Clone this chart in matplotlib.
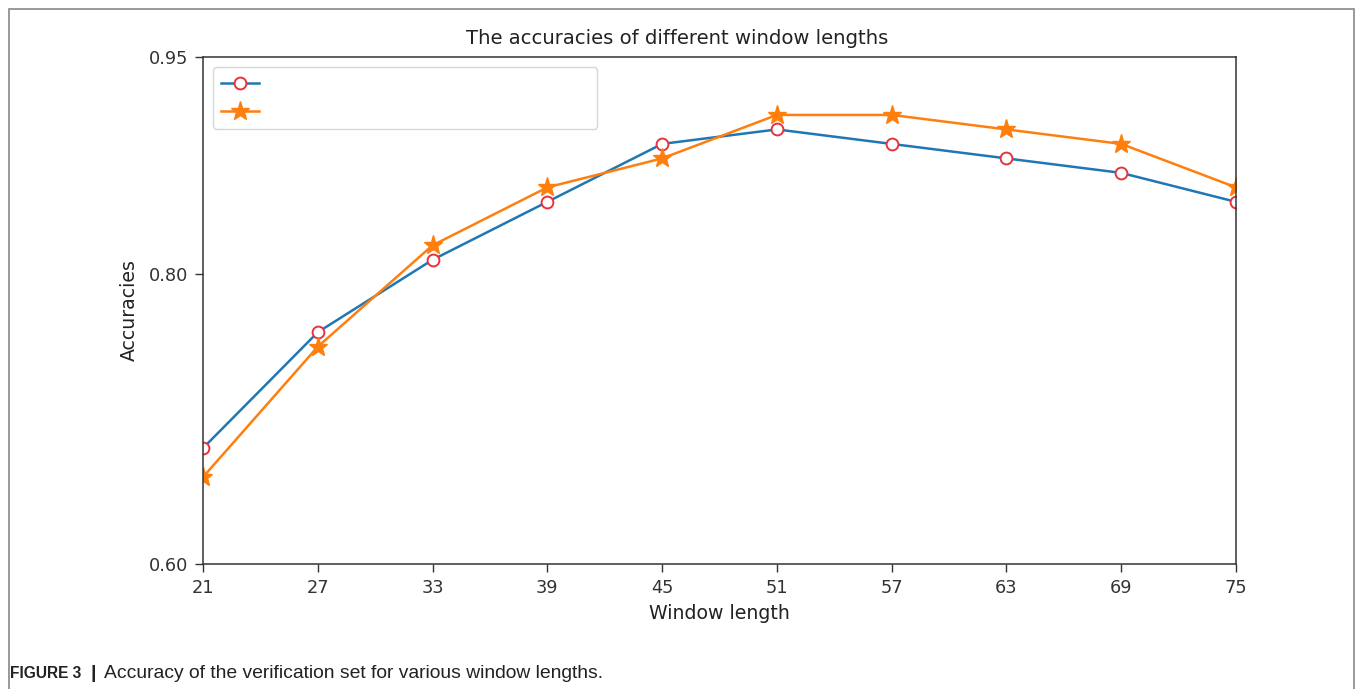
#window length accuracies
import matplotlib.pyplot as plt
from matplotlib.patches import Rectangle

plt.rcParams["font.family"] = ["DejaVu Sans"]

window_lengths = [21, 27, 33, 39, 45, 51, 57, 63, 69, 75]
acc_circle = [0.68, 0.76, 0.81, 0.85, 0.89, 0.90, 0.89, 0.88, 0.87, 0.85]
acc_star = [0.66, 0.75, 0.82, 0.86, 0.88, 0.91, 0.91, 0.90, 0.89, 0.86]
y_ticks = [0.60, 0.80, 0.95]
blank_label = " " * 59

fig = plt.figure(figsize=(13.55, 6.89), dpi=100)
ax = fig.add_axes([203 / 1355, 1 - 564 / 689, (1236 - 203) / 1355, (564 - 57) / 689])

ax.plot(window_lengths, acc_circle, color="#1f77b4", lw=1.8, marker="o", ms=8.5,
        mfc="white", mec="#e8323c", mew=1.4, label=blank_label)
ax.plot(window_lengths, acc_star, color="#ff7f0e", lw=1.8, marker="*", ms=14,
        label=blank_label)

ax.set_xlim(21, 75)
ax.set_ylim(0.6, 0.95)
ax.set_xticks(window_lengths)
ax.set_yticks(y_ticks)
ax.set_yticklabels(["%.2f" % v for v in y_ticks])
ax.tick_params(labelsize=12.8, length=5.5, width=1, pad=5, colors="#333333")
for s in ax.spines.values():
    s.set_color("#333333")
    s.set_linewidth(1.1)

ax.set_title("The accuracies of different window lengths", fontsize=14.1, color="#222222",
             x=(677 - 203) / 1033, pad=9)
ax.set_xlabel("Window length", fontsize=13.6, color="#222222", labelpad=5)
ax.set_ylabel("Accuracies", fontsize=13.6, color="#222222", labelpad=7)
ax.legend(loc="upper left", fontsize=12.2, handlelength=2.25, labelspacing=0.6,
          borderaxespad=0.6, borderpad=0.45)

# outer frame + caption
fig.patches.append(Rectangle((9 / 1355, -0.1), (1354 - 9) / 1355, 1.1 - 9 / 689,
                             transform=fig.transFigure, fill=False, ec="#888888", lw=1.2))
cap_y = 1 - 673 / 689
fig.text(10 / 1355, cap_y, "FIGURE 3", fontsize=11.2, fontweight="bold",
         family="Liberation Sans", va="center", color="#222222")
fig.text(90 / 1355, cap_y, "|", fontsize=13.9, fontweight="bold",
         family="Liberation Sans", va="center", color="#222222")
fig.text(104 / 1355, cap_y, "Accuracy of the verification set for various window lengths.",
         fontsize=13.9, family="Liberation Sans", va="center", color="#222222")

plt.savefig("out.png", dpi=100)
